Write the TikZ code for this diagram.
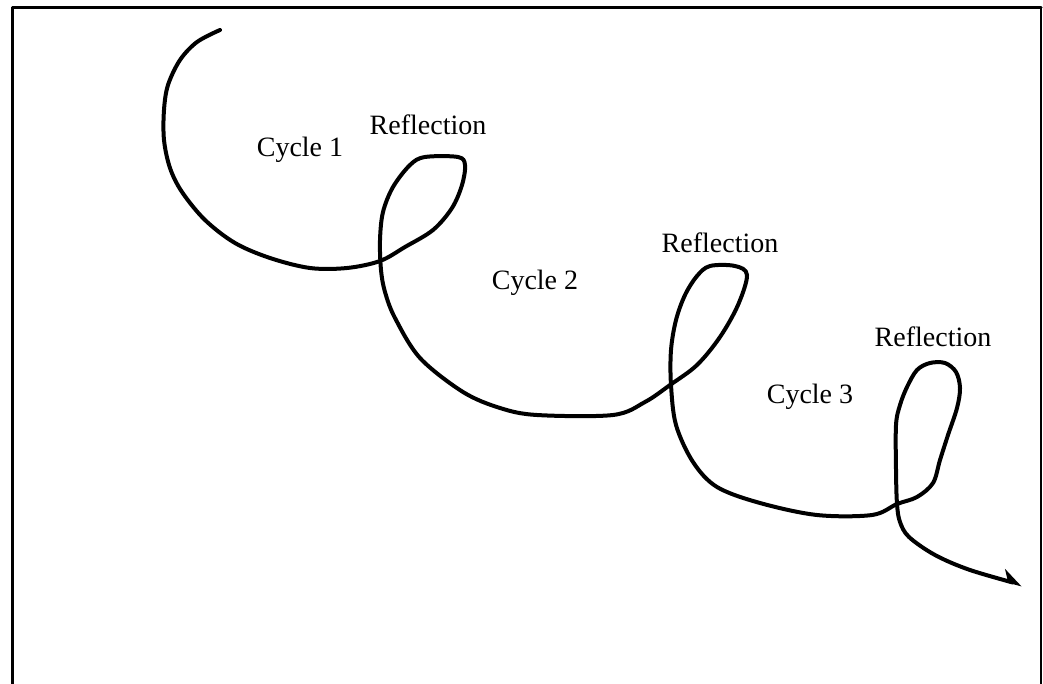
\documentclass[tikz,border=0pt]{standalone}
\usepackage{fontspec}
\setmainfont{Liberation Serif}
\usetikzlibrary{arrows.meta}
\begin{document}
\begin{tikzpicture}[x=0.5pt, y=-0.5pt, font=\fontsize{14}{16}\selectfont, line join=round, line cap=round, >={Stealth[left, length=9pt, width=11pt]}]
		\useasboundingbox (0,0) rectangle (1043,684);
		% frame, open at the bottom
		\draw[line width=1.5pt] (12,684)--(12,8)--(1041,8);
		\draw[line width=0.6pt] (1041,8)--(1041,684);
		% the path with its three reflections
		\draw[line width=2pt, ->] plot[smooth, tension=0.55] coordinates {
			(220,30) (197,42) (180,60) (168,85) (164,110) (164,140) (170,168) (182,192)
			(205,220) (235,243) (270,258) (310,268) (347,268) (380,261) (405,247) (433,230)
			(452,208) (462,185) (465,165) (458,157) (425,157) (410,165) (393,187) (383,212)
			(380,240) (381,270) (385,292) (395,318) (420,358) (463,392) (500,408) (537,415)
			(613,415) (645,402) (670,385) (697,365) (720,337) (738,305) (747,275) (735,266)
			(710,266) (697,276) (685,295) (676,320) (671,350) (671,385) (676,425) (693,462)
			(717,487) (760,503) (817,515) (872,515) (897,504) (917,497) (933,483) (940,460)
			(948,435) (957,408) (960,388) (956,372) (945,363) (930,363) (917,370) (907,387)
			(900,405) (896,425) (896,470) (897,504) (900,522) (909,537) (935,555) (970,570)
			(1022,585)};
		% labels
		\node (cyc1) at (300,150) {Cycle 1};
		\node (refl1) at (428,125) {Reflection};
		\node (cyc2) at (535,283) {Cycle 2};
		\node (refl2) at (720,243) {Reflection};
		\node (cyc3) at (810,397) {Cycle 3};
		\node (refl3) at (933,337) {Reflection};
\end{tikzpicture}
\end{document}
